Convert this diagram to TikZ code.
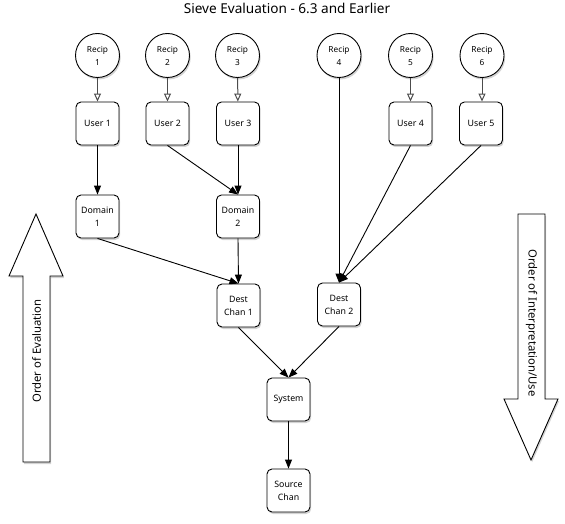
\documentclass[tikz,border=0pt]{standalone}
\usepackage{fontspec}
\setmainfont{Noto Sans}
\usetikzlibrary{arrows.meta,shadows}
\begin{document}
\begin{tikzpicture}[x=1pt,y=-1pt,
  shad/.style={drop shadow={opacity=0.35,shadow xshift=1.2pt,shadow yshift=-2pt}},
  box/.style={draw=black,line width=0.9pt,fill=white,rounded corners=5pt,minimum width=43pt,minimum height=43pt,inner sep=1pt,align=center,font=\fontsize{8.8}{13}\selectfont,shad},
  recip/.style={draw=black,line width=0.9pt,fill=white,circle,minimum size=44pt,inner sep=0pt,align=center,font=\fontsize{8.3}{13}\selectfont,shad},
  openar/.style={draw=black!70,line width=1pt,-{Triangle[open,width=7pt,length=8pt,fill=white]}},
  solar/.style={draw=black,line width=0.9pt,-{Triangle[width=7pt,length=9pt]}},
  bigarrow/.style={draw=black,line width=0.9pt,fill=white,shad},
  lbl/.style={font=\fontsize{11.3}{13}\selectfont}
]
\useasboundingbox (0,0) rectangle (565,524);
\node[font=\fontsize{13.6}{15}\selectfont] (title) at (287,8) {Sieve Evaluation - 6.3 and Earlier};

% big arrows
\draw[bigarrow] (36,214) -- (63,276) -- (50,276) -- (50,462) -- (23,462) -- (23,276) -- (9,276) -- cycle;
\node[lbl,rotate=90] (oe) at (36.5,351) {Order of Evaluation};
\draw[bigarrow] (518,214) -- (545,214) -- (545,399) -- (558,399) -- (531,460) -- (504,399) -- (518,399) -- cycle;
\node[lbl,rotate=-90] (oi) at (531.5,323) {Order of Interpretation/Use};

% recips
\node[recip] (r1) at (97.5,55.5) {Recip\\1};
\node[recip] (r2) at (167.5,55.5) {Recip\\2};
\node[recip] (r3) at (237.5,55.5) {Recip\\3};
\node[recip] (r4) at (339,55.5) {Recip\\4};
\node[recip] (r5) at (410.5,55.5) {Recip\\5};
\node[recip] (r6) at (482,55.5) {Recip\\6};

% users
\node[box] (u1) at (97.5,123.5) {User 1};
\node[box] (u2) at (167.5,123.5) {User 2};
\node[box] (u3) at (238,123.5) {User 3};
\node[box] (u4) at (410.5,123.5) {User 4};
\node[box] (u5) at (481,123.5) {User 5};

% domains
\node[box] (d1) at (97.5,216.5) {Domain\\1};
\node[box] (d2) at (238,216.5) {Domain\\2};

% dest chans
\node[box] (dc1) at (238.5,305.5) {Dest\\Chan 1};
\node[box] (dc2) at (339,304.5) {Dest\\Chan 2};

\node[box] (sys) at (288.5,399.5) {System};
\node[box] (src) at (288.5,490.5) {Source\\Chan};

% edges
\draw[openar] (r1) -- (u1);
\draw[openar] (r2) -- (u2);
\draw[openar] (r3) -- (u3);
\draw[openar] (r5) -- (u4.north -| r5);
\draw[openar] (r6) -- (u5.north -| r6);

\draw[solar] (u1.south) -- (d1.north);
\draw[solar] (u2.south) -- (d2.north);
\draw[solar] (u3.south) -- (d2.north);
\draw[solar] (d1.south) -- (dc1.north);
\draw[solar] (d2.south) -- (dc1.north);
\draw[solar] (r4.south) -- (dc2.north);
\draw[solar] (u4.south) -- (dc2.north);
\draw[solar] (u5.south) -- (dc2.north);
\draw[solar] (dc1.south) -- (sys.north);
\draw[solar] (dc2.south) -- (sys.north);
\draw[solar] (sys.south) -- (src.north);
\end{tikzpicture}
\end{document}
